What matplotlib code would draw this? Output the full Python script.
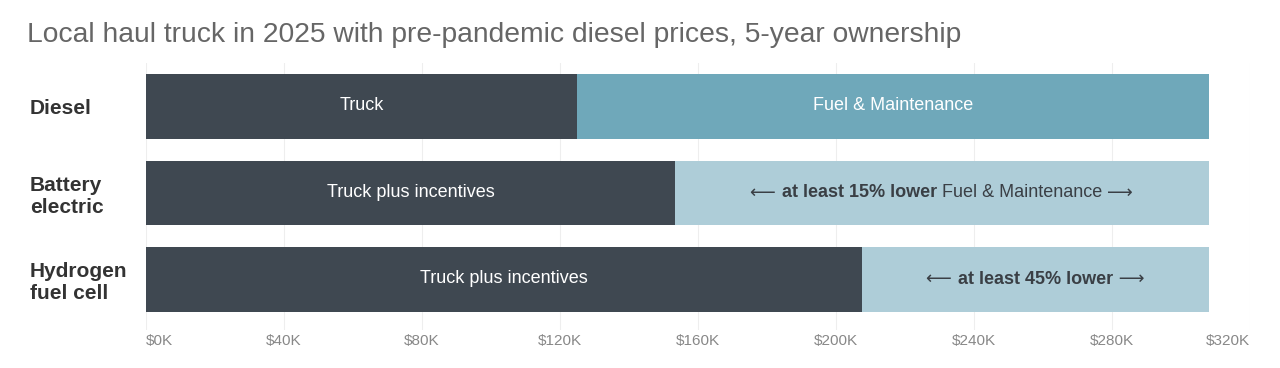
import matplotlib
matplotlib.use("Agg")
import matplotlib.pyplot as plt

categories = ["Diesel", "Battery\nelectric", "Hydrogen\nfuel cell"]
truck_cost = [125000, 153300, 207500]
fuel_maint_cost = [183000, 154700, 100500]
truck_labels = ["Truck", "Truck plus incentives", "Truck plus incentives"]
xticks = [0, 40000, 80000, 120000, 160000, 200000, 240000, 280000, 320000]
xtick_labels = ["$0K", "$40K", "$80K", "$120K", "$160K", "$200K", "$240K", "$280K", "$320K"]

DARK = "#3f4851"
FUEL_DIESEL = "#6fa8ba"
FUEL_LIGHT = "#aecdd8"

plt.rcParams["font.family"] = ["Liberation Sans", "DejaVu Sans"]

fig = plt.figure(figsize=(12.8, 3.68), dpi=100)
ax = fig.add_axes([146 / 1280, 1 - 330 / 368, (1250 - 146) / 1280, (330 - 63) / 368])

y = [0, 1, 2]
fuel_colors = [FUEL_DIESEL, FUEL_LIGHT, FUEL_LIGHT]
ax.barh(y, truck_cost, height=0.75, color=DARK, zorder=2)
ax.barh(y, fuel_maint_cost, left=truck_cost, height=0.75, color=fuel_colors, zorder=2)

ax.set_xlim(0, 320000)
ax.set_ylim(2.584, -0.503)

for i in range(3):
    ax.text(truck_cost[i] / 2, y[i] - 0.01, truck_labels[i], ha="center", va="center",
            color="white", fontsize=13)

ax.text(truck_cost[0] + fuel_maint_cost[0] / 2, y[0] - 0.01, "Fuel & Maintenance",
        ha="center", va="center", color="white", fontsize=13)


def chained(ax, xc, yc, parts):
    arts = []
    prev = None
    for s, w in parts:
        fam = ["DejaVu Sans"] if ("\u27f6" in s or "\u27f5" in s) else ["Liberation Sans", "DejaVu Sans"]
        if prev is None:
            t = ax.text(xc, yc, s, ha="left", va="center", color="#3a3f45",
                        fontsize=13, fontweight=w, family=fam)
        else:
            t = ax.annotate(s, xy=(1, 0.5), xycoords=prev, ha="left", va="center",
                            color="#3a3f45", fontsize=13, fontweight=w, family=fam)
        arts.append(t)
        prev = t
    fig.canvas.draw()
    r = fig.canvas.get_renderer()
    x0 = arts[0].get_window_extent(r).x0
    x1 = arts[-1].get_window_extent(r).x1
    target = ax.transData.transform((xc, yc))[0]
    shift = target - (x0 + x1) / 2
    new_x = ax.transData.inverted().transform((x0 + shift, 0))[0]
    arts[0].set_x(new_x)


chained(ax, truck_cost[1] + fuel_maint_cost[1] / 2, y[1],
        [("\u27f5 ", "normal"), ("at least 15% lower", "bold"),
         (" Fuel & Maintenance ", "normal"), ("\u27f6", "normal")])
chained(ax, truck_cost[2] + fuel_maint_cost[2] / 2, y[2],
        [("\u27f5 ", "normal"), ("at least 45% lower", "bold"), (" \u27f6", "normal")])

ax.set_yticks(y)
ax.set_yticklabels(categories, fontsize=15, fontweight="bold", color="#333333",
                   ha="left", linespacing=1.2)
ax.tick_params(axis="y", length=0, pad=83.5)

ax.set_xticks(xticks)
ax.set_xticklabels(xtick_labels, fontsize=11, color="#888888")
ax.tick_params(axis="x", length=0, pad=3)
labs = ax.get_xticklabels()
labs[0].set_ha("left")
labs[-1].set_ha("right")

ax.grid(axis="x", color="#eeeeee", linewidth=0.8, zorder=0)
for s in ax.spines.values():
    s.set_visible(False)

fig.text(27 / 1280, 1 - 35 / 368, "Local haul truck in 2025 with pre-pandemic diesel prices, 5-year ownership",
         fontsize=20.3, color="#666666", va="center", ha="left")

fig.savefig("out.png", dpi=100)
